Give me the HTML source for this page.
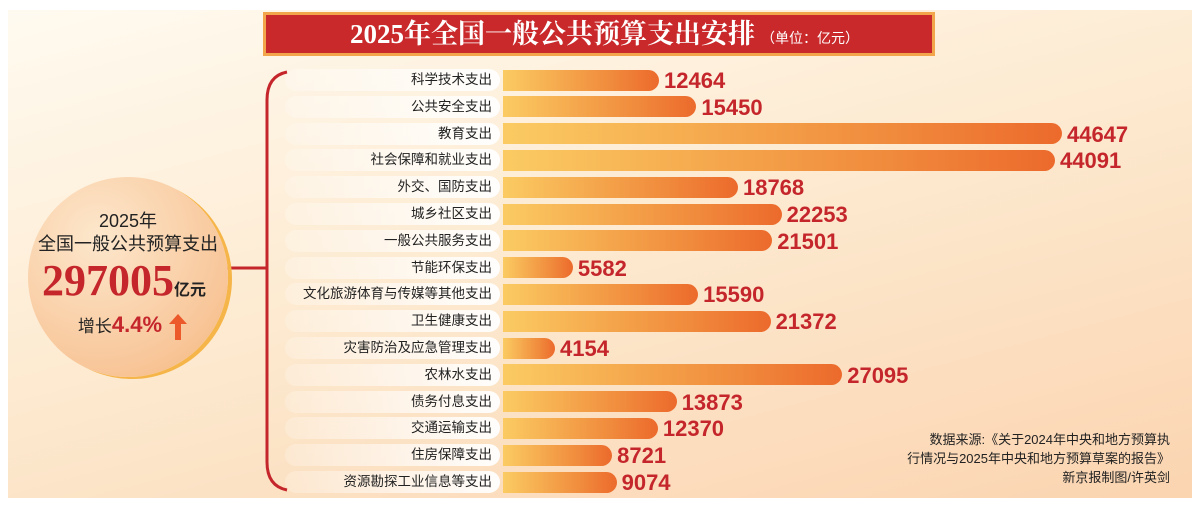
<!DOCTYPE html>
<html><head><meta charset="utf-8"><style>
*{margin:0;padding:0;box-sizing:border-box}
body{width:1200px;height:510px;background:#fff;position:relative;overflow:hidden;font-family:"Liberation Sans","Noto Sans CJK SC",sans-serif}
#bg{position:absolute;left:8px;top:10px;width:1184px;height:488px;background:linear-gradient(165deg,#fffaf0 0%,#fdebd2 45%,#fbd4b0 100%)}
#title{position:absolute;left:263px;top:12px;width:672px;height:44px;background:#c9292b;border:3px solid #f2a54a;color:#fff;font-family:"Liberation Serif","Noto Serif CJK SC",serif;font-weight:bold;font-size:27px;line-height:38px;padding-left:84px;white-space:nowrap}
#title small{font-family:"Liberation Sans","Noto Sans CJK SC",sans-serif;font-size:14px;font-weight:normal;margin-left:6px}
#circle{position:absolute;left:28px;top:177px;width:200px;height:200px;border-radius:50%;background:radial-gradient(circle at 35% 30%,#fde7cc,#f8c699 70%,#f5b57a);box-shadow:4px 2px 0 #f6b548}
.ct{position:absolute;left:0;width:200px;text-align:center;color:#222}
.pill{position:absolute;left:285px;width:215px;height:22px;border-radius:11px;background:linear-gradient(90deg,rgba(255,255,255,0.2),rgba(255,255,255,0.95));text-align:right;padding-right:8px;font-size:13.5px;line-height:22px;color:#222;white-space:nowrap}
.bar{position:absolute;left:503px;height:21px;border-radius:0 11px 11px 0;background:linear-gradient(90deg,#fbcb62,#f08a3c 70%,#ec6a2c)}
.num{position:absolute;font-size:22px;font-weight:bold;color:#c4262b;line-height:22px}
#src{position:absolute;right:30px;top:430px;font-size:13px;color:#222;text-align:right;line-height:19px}
</style></head><body>
<div id="bg"></div>
<div id="title">2025年全国一般公共预算支出安排<small>（单位：亿元）</small></div>
<svg style="position:absolute;left:0;top:0" width="1200" height="510">
<path d="M287 72 Q267 76 267 100 L267 462 Q267 486 287 490" fill="none" stroke="#c4262b" stroke-width="3"/>
<line x1="226" y1="268" x2="267" y2="268" stroke="#c4262b" stroke-width="3"/>
</svg>
<div id="circle">
<div class="ct" style="top:30px;font-size:18px">2025年</div>
<div class="ct" style="top:53px;font-size:18px">全国一般公共预算支出</div>
<div class="ct" style="top:78px;font-size:44px;font-weight:bold;color:#c4262b;font-family:'Liberation Serif',serif;left:-4px;white-space:nowrap">297005<span style="font-size:16px;color:#222;font-family:'Liberation Sans','Noto Sans CJK SC',sans-serif">亿元</span></div>
<div class="ct" style="top:135px;font-size:17px;left:-8px">增长<span style="color:#c4262b;font-weight:bold;font-size:22px">4.4%</span></div>
<svg style="position:absolute;left:141px;top:137px" width="18" height="26"><path d="M9 0 L18 10 L12 10 L12 26 L6 26 L6 10 L0 10 Z" fill="#ec5a2c"/></svg>
</div>
<div id="rows"></div>
<div id="src">数据来源:《关于2024年中央和地方预算执<br>行情况与2025年中央和地方预算草案的报告》<br>新京报制图/许英剑</div>
<script>
var d=[["科学技术支出",12464],["公共安全支出",15450],["教育支出",44647],["社会保障和就业支出",44091],["外交、国防支出",18768],["城乡社区支出",22253],["一般公共服务支出",21501],["节能环保支出",5582],["文化旅游体育与传媒等其他支出",15590],["卫生健康支出",21372],["灾害防治及应急管理支出",4154],["农林水支出",27095],["债务付息支出",13873],["交通运输支出",12370],["住房保障支出",8721],["资源勘探工业信息等支出",9074]];
var h="";
d.forEach(function(r,i){var y=69+i*26.8;var w=r[1]*0.01252;
h+='<div class="pill" style="top:'+y+'px">'+r[0]+'</div><div class="bar" style="top:'+(y+0.5)+'px;width:'+w+'px"></div><div class="num" style="top:'+(y+1)+'px;left:'+(503+w+5)+'px">'+r[1]+'</div>';});
document.getElementById("rows").innerHTML=h;
</script>
</body></html>
